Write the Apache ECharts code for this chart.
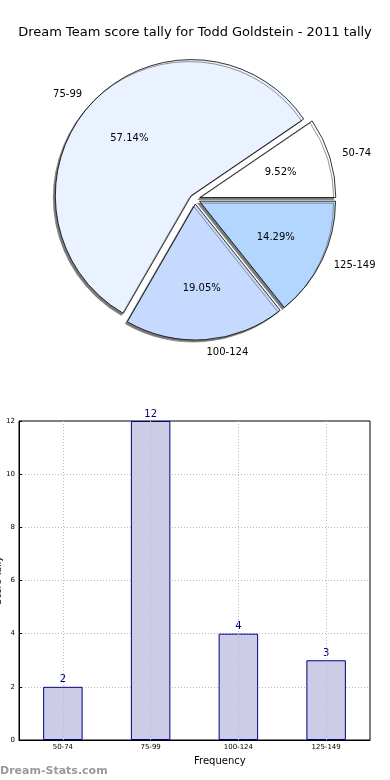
<!DOCTYPE html>
<html>
<head>
<meta charset="utf-8">
<script src="https://cdn.jsdelivr.net/npm/echarts@6/dist/echarts.min.js"></script>
<style>
html,body{margin:0;padding:0;background:#fff;}
#c{width:390px;height:780px;}
</style>
</head>
<body>
<div id="c"></div>
<script>
var titleText = 'Dream Team score tally for Todd Goldstein - 2011 tally';
var categories = ['50-74', '75-99', '100-124', '125-149'];
var counts = [2, 12, 4, 3];
var pieColors = ['#ffffff', '#eaf1ff', '#c6d9ff', '#b3d6ff'];
var yTicks = [0, 2, 4, 6, 8, 10, 12];
var xAxisName = 'Frequency';
var yAxisName = 'Score Tally';
var watermark = 'Dream-Stats.com';

var total = counts.reduce(function(a, b){ return a + b; }, 0);
var FONT = 'DejaVu Sans';
var R = 136;

var pieData = categories.map(function(c, i){
  return { name: c, value: counts[i], selected: true, itemStyle: { color: pieColors[i] } };
});
var pctData = categories.map(function(c, i){
  return { name: c, value: counts[i], selected: true };
});

var chart = echarts.init(document.getElementById('c'), null, {renderer: 'canvas'});
chart.setOption({
  animation: false,
  backgroundColor: '#fff',
  title: {
    text: titleText, left: 'center', top: 21,
    textStyle: { fontFamily: FONT, fontSize: 13, fontWeight: 'normal', color: '#000' }
  },
  graphic: [{
    type: 'text', left: 0, bottom: 3,
    style: { text: watermark, fill: '#999', font: 'bold 11px "DejaVu Sans"' }
  }, {
    type: 'text', left: 194, top: 756,
    style: { text: xAxisName, fill: '#000', font: '10px "DejaVu Sans"', textAlign: 'center' }
  }],
  grid: {
    left: 19, right: 20, top: 421, bottom: 40, show: true,
    outerBoundsMode: 'none', containLabel: false,
    borderColor: '#000', borderWidth: 1, backgroundColor: 'transparent'
  },
  xAxis: {
    type: 'category', data: categories,
    axisLine: { lineStyle: { color: '#000' } },
    axisTick: { show: false },
    axisLabel: { fontFamily: FONT, fontSize: 7, color: '#000', margin: 4 },
    splitLine: { show: false }
  },
  yAxis: {
    type: 'value', min: 0, max: 12, interval: 2,
    name: yAxisName, nameLocation: 'middle', nameGap: 16, nameRotate: 90,
    nameMoveOverlap: false,
    nameTextStyle: { fontFamily: FONT, fontSize: 9, color: '#000' },
    axisLine: { show: true, lineStyle: { color: '#000' } },
    axisTick: { show: true, inside: true, length: 3, lineStyle: { color: '#000' } },
    axisLabel: { fontFamily: FONT, fontSize: 7, color: '#000', margin: 4 },
    splitLine: { show: true, showMaxLine: false, showMinLine: false, lineStyle: { color: '#b8b8b8', type: [1, 2], width: 1 } }
  },
  series: [{
    type: 'pie',
    center: [195, 199],
    radius: [0, R],
    startAngle: 0,
    clockwise: false,
    selectedMode: 'multiple',
    selectedOffset: 5,
    avoidLabelOverlap: false,
    data: pieData,
    itemStyle: {
      borderColor: '#000', borderWidth: 0.8,
      shadowColor: '#7a7a7a', shadowOffsetX: -2, shadowOffsetY: 2, shadowBlur: 0
    },
    label: {
      show: true, position: 'outside', fontFamily: FONT, fontSize: 10, color: '#000',
      distanceToLabelLine: 0
    },
    labelLine: { show: false, length: 13, length2: 0 },
    emphasis: { disabled: true }
  }, {
    type: 'pie',
    center: [195, 199],
    radius: [0, R * 1.2],
    startAngle: 0,
    clockwise: false,
    selectedMode: 'multiple',
    selectedOffset: 5,
    silent: true,
    data: pctData,
    itemStyle: { color: 'rgba(0,0,0,0)', borderWidth: 0 },
    label: {
      show: true, position: 'inside', fontFamily: FONT, fontSize: 10, color: '#000',
      formatter: function(p){ return (p.value / total * 100).toFixed(2) + '%'; }
    },
    labelLine: { show: false },
    emphasis: { disabled: true }
  }, {
    type: 'bar',
    data: counts,
    barWidth: '45%',
    itemStyle: { color: '#ccccE6', borderColor: '#000080', borderWidth: 1 },
    label: { show: true, position: 'top', distance: 2, fontFamily: FONT, fontSize: 10, color: '#000080' },
    markLine: {
      silent: true, symbol: 'none', label: { show: false },
      lineStyle: { color: '#b8b8b8', type: [1, 2], width: 1 },
      data: categories.map(function(c){ return { xAxis: c }; })
    }
  }]
});
</script>
</body>
</html>
